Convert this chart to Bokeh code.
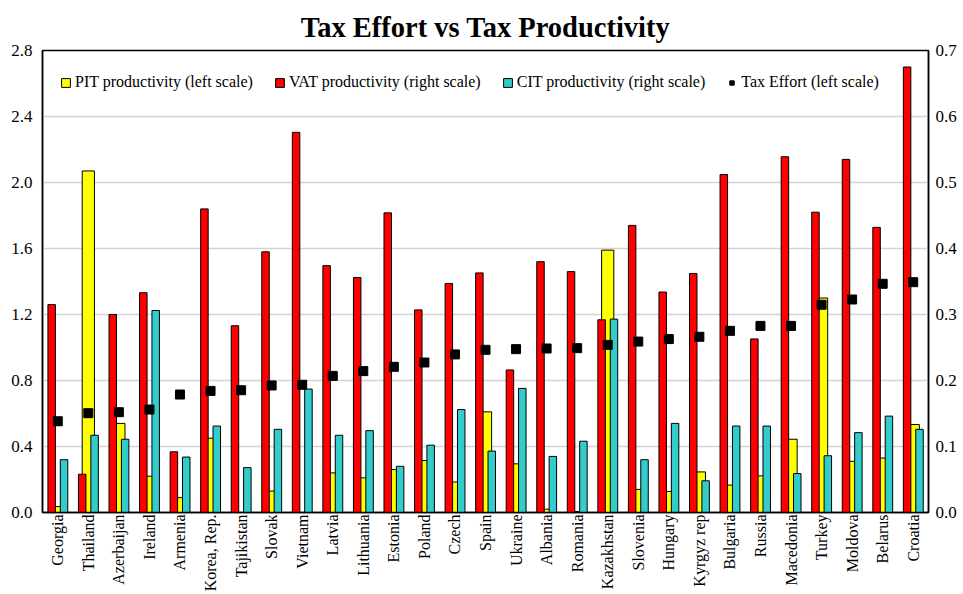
import math
from bokeh.plotting import figure
from bokeh.models import (Range1d, LinearAxis, FactorRange, ColumnDataSource, Legend,
                          LegendItem, FixedTicker, NumeralTickFormatter)
from bokeh.transform import dodge
from bokeh.embed import file_html
from bokeh.resources import INLINE

countries = ["Georgia", "Thailand", "Azerbaijan", "Ireland", "Armenia", "Korea, Rep.",
             "Tajikistan", "Slovak", "Vietnam", "Latvia", "Lithuania", "Estonia", "Poland",
             "Czech", "Spain", "Ukraine", "Albania", "Romania", "Kazakhstan", "Slovenia",
             "Hungary", "Kyrgyz rep", "Bulgaria", "Russia", "Macedonia", "Turkey", "Moldova",
             "Belarus", "Croatia"]

pit = [0.036, 2.07, 0.54, 0.22, 0.09, 0.45, 0.0, 0.13, 0.0, 0.24, 0.21, 0.26, 0.315,
       0.185, 0.61, 0.295, 0.02, 0.006, 1.59, 0.14, 0.127, 0.246, 0.166, 0.222, 0.444,
       1.30, 0.31, 0.33, 0.533]

vat = [0.315, 0.058, 0.300, 0.333, 0.092, 0.460, 0.283, 0.395, 0.576, 0.374, 0.356,
       0.454, 0.307, 0.347, 0.363, 0.216, 0.380, 0.365, 0.292, 0.435, 0.334, 0.362,
       0.512, 0.263, 0.539, 0.455, 0.535, 0.432, 0.675]

cit = [0.080, 0.117, 0.111, 0.306, 0.084, 0.131, 0.068, 0.126, 0.187, 0.117, 0.124,
       0.070, 0.102, 0.156, 0.093, 0.188, 0.085, 0.108, 0.293, 0.080, 0.135, 0.048,
       0.131, 0.131, 0.059, 0.086, 0.121, 0.146, 0.126]

tax_effort = [0.553, 0.602, 0.608, 0.624, 0.715, 0.737, 0.741, 0.770, 0.774, 0.828,
              0.857, 0.883, 0.909, 0.958, 0.986, 0.990, 0.994, 0.996, 1.016, 1.036,
              1.051, 1.065, 1.101, 1.131, 1.131, 1.259, 1.291, 1.386, 1.396]

left_ticks = [0.0, 0.4, 0.8, 1.2, 1.6, 2.0, 2.4, 2.8]
right_ticks = [0.0, 0.1, 0.2, 0.3, 0.4, 0.5, 0.6, 0.7]

src = ColumnDataSource(dict(country=countries, pit=pit, vat=vat, cit=cit, te=tax_effort))

FONT = "Liberation Serif"

p = figure(x_range=FactorRange(factors=countries), y_range=Range1d(0, 2.8),
           width=960, height=594, output_backend="svg", toolbar_location=None,
           min_border_left=42, min_border_right=32, min_border_top=50, min_border_bottom=82,
           title="Tax Effort vs Tax Productivity")
p.extra_y_ranges = {"right": Range1d(0, 0.7)}

p.title.text_font = FONT
p.title.text_font_size = "28.5px"
p.title.text_font_style = "bold"
p.title.align = "center"
p.title.text_color = "black"
p.title.standoff = 15

p.outline_line_color = "black"
p.outline_line_width = 1.5
p.outline_line_alpha = 1.0
p.background_fill_color = "white"
p.border_fill_color = "white"

p.xgrid.grid_line_color = None
p.ygrid.grid_line_color = "#d4d4d4"
p.ygrid.grid_line_width = 1.5
p.ygrid.ticker = FixedTicker(ticks=left_ticks)

p.yaxis.ticker = FixedTicker(ticks=left_ticks)
p.yaxis.formatter = NumeralTickFormatter(format="0.0")
ax_right = LinearAxis(y_range_name="right", ticker=FixedTicker(ticks=right_ticks),
                      formatter=NumeralTickFormatter(format="0.0"))
p.add_layout(ax_right, "right")

for ax in [p.yaxis[0], ax_right]:
    ax.major_tick_out = 0
    ax.major_tick_in = 0
    ax.minor_tick_out = 0
    ax.minor_tick_in = 0
    ax.axis_line_color = "black"
    ax.axis_line_width = 1.5
    ax.major_label_text_font = FONT
    ax.major_label_text_font_size = "17px"
    ax.major_label_text_color = "black"
    ax.axis_label_standoff = 0
p.yaxis[0].major_label_standoff = 10
ax_right.major_label_standoff = 7

p.xaxis.major_tick_out = 0
p.xaxis.major_tick_in = 0
p.xaxis.axis_line_color = "black"
p.xaxis.axis_line_width = 1.5
p.xaxis.major_label_orientation = math.pi / 2
p.xaxis.major_label_text_font = FONT
p.xaxis.major_label_text_font_size = "16px"
p.xaxis.major_label_text_color = "black"
p.xaxis.major_label_standoff = 2
p.xaxis.axis_label_standoff = 0

r_pit = p.vbar(x=dodge("country", 0.0, range=p.x_range), top="pit", width=0.4,
               source=src, fill_color="#FFFF00", line_color="black", line_width=1)
r_vat = p.vbar(x=dodge("country", -0.2, range=p.x_range), top="vat", width=0.245,
               source=src, fill_color="#FF0000", line_color="black", line_width=1,
               y_range_name="right")
r_cit = p.vbar(x=dodge("country", 0.205, range=p.x_range), top="cit", width=0.245,
               source=src, fill_color="#33CCCC", line_color="black", line_width=1,
               y_range_name="right")
r_te = p.scatter(x="country", y="te", source=src, marker="square", size=9,
                 fill_color="black", line_color="black")

legend = Legend(items=[
    LegendItem(label="PIT productivity (left scale)", renderers=[r_pit]),
    LegendItem(label="VAT productivity (right scale)", renderers=[r_vat]),
    LegendItem(label="CIT productivity (right scale)", renderers=[r_cit]),
    LegendItem(label="Tax Effort (left scale)", renderers=[r_te]),
], orientation="horizontal", location=(18, 421))
legend.border_line_color = None
legend.background_fill_alpha = 0
legend.padding = 5
legend.margin = 0
legend.spacing = 21
legend.glyph_width = 11
legend.glyph_height = 11
legend.label_height = 17
legend.label_standoff = 4
legend.label_text_font = FONT
legend.label_text_font_size = "16px"
legend.label_text_color = "black"
p.add_layout(legend)

open("out.html", "w").write(file_html(p, INLINE))
